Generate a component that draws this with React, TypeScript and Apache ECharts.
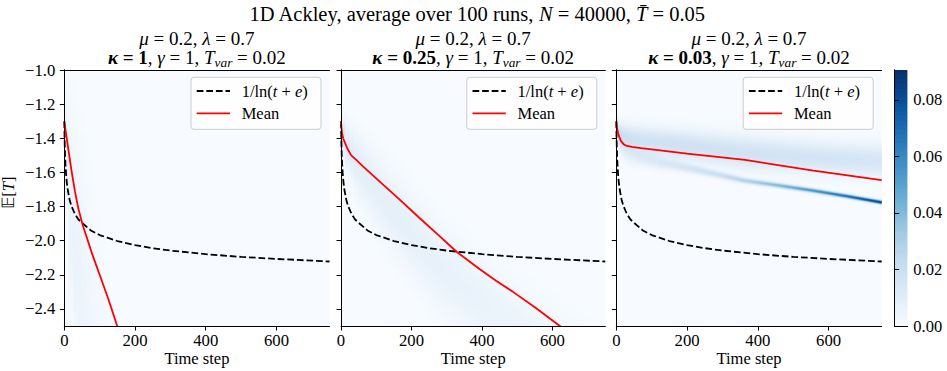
import React, { useEffect, useRef } from 'react';
import * as echarts from 'echarts';

// ---------- data ----------
const timeTicks = [0, 200, 400, 600];
const energyTicks = [-2.4, -2.2, -2.0, -1.8, -1.6, -1.4, -1.2, -1.0];
const colorTicks = [0, 0.02, 0.04, 0.06, 0.08];
const kappaLabels = ['1', '0.25', '0.03'];

// reference curve 1/ln(t+e) (log scale)
const refT = [0, 1, 2, 3, 5, 7, 10, 15, 20, 30, 40, 50, 75, 100, 150, 200, 250, 300, 400, 500, 600, 750];
const refV = [-1.301, -1.419, -1.492, -1.543, -1.611, -1.658, -1.706, -1.76, -1.796, -1.844, -1.876, -1.895, -1.94, -1.967, -2.002, -2.026, -2.044, -2.058, -2.079, -2.095, -2.107, -2.122];

// mean curves
const mean1T = [0, 5, 10, 20, 30, 40, 52, 65, 80, 100, 125, 148, 160];
const mean1V = [-1.3, -1.375, -1.445, -1.585, -1.71, -1.815, -1.908, -1.99, -2.085, -2.2, -2.345, -2.49, -2.56];
const mean2T = [0, 1, 3, 6, 10, 18, 29, 45, 60, 85, 110, 165, 219, 275, 328, 394, 440, 488, 550, 621, 640];
const mean2V = [-1.3, -1.335, -1.37, -1.4, -1.42, -1.46, -1.5, -1.53, -1.56, -1.607, -1.654, -1.757, -1.86, -1.965, -2.065, -2.168, -2.235, -2.3, -2.39, -2.5, -2.53];
const mean3T = [0, 1, 3, 5, 8, 13, 21, 30, 44, 70, 100, 200, 364, 557, 750];
const mean3V = [-1.3, -1.325, -1.35, -1.37, -1.39, -1.415, -1.436, -1.445, -1.451, -1.458, -1.465, -1.49, -1.527, -1.59, -1.645];

// density bands (time knots, centre, spread, peak density)
const p1BandT = [0, 5, 15, 35, 60, 90, 130, 180];
const p1BandC = [-1.3, -1.45, -1.75, -2.1, -2.4, -2.7, -3.0, -3.3];
const p1BandS = [0.04, 0.2, 0.35, 0.45, 0.5, 0.5, 0.5, 0.5];
const p1BandP = [0.01, 0.007, 0.006, 0.0055, 0.0045, 0.003, 0.0015, 0];

const p2BandT = [0, 10, 50, 133, 275, 388, 520, 750];
const p2BandC = [-1.32, -1.42, -1.55, -1.79, -2.14, -2.34, -2.55, -2.9];
const p2BandS = [0.04, 0.08, 0.12, 0.15, 0.16, 0.17, 0.18, 0.2];
const p2BandP = [0.02, 0.011, 0.009, 0.008, 0.007, 0.006, 0.005, 0.004];

const p3UpT = [0, 10, 50, 200, 364, 557, 750];
const p3UpC = [-1.32, -1.38, -1.405, -1.44, -1.48, -1.51, -1.53];
const p3UpS = [0.03, 0.045, 0.055, 0.06, 0.065, 0.065, 0.065];
const p3UpP = [0.03, 0.02, 0.018, 0.018, 0.017, 0.016, 0.015];

const p3LowT = [0, 20, 50, 120, 200, 300, 364, 450, 557, 650, 750];
const p3LowC = [-1.4, -1.47, -1.5, -1.54, -1.57, -1.615, -1.645, -1.67, -1.703, -1.735, -1.772];
const p3LowS = [0.05, 0.04, 0.035, 0.025, 0.018, 0.013, 0.011, 0.0095, 0.0085, 0.008, 0.0075];
const p3LowP = [0, 0.006, 0.008, 0.011, 0.014, 0.02, 0.028, 0.04, 0.056, 0.07, 0.088];

const colorMax = 0.0906;
const bluesPalette = ['#f7fbff', '#deebf7', '#c6dbef', '#9ecae1', '#6baed6', '#4292c6', '#2171b5', '#08519c', '#08306b'];

// ---------- building tables ----------
type Band = { t: number[]; c: number[]; s: number[]; p: number[] };

function lerp(ts: number[], vs: number[], t: number) {
  if (t <= ts[0]) return vs[0];
  for (let k = 1; k < ts.length; k++) {
    if (t <= ts[k]) {
      const f = (t - ts[k - 1]) / (ts[k] - ts[k - 1]);
      return vs[k - 1] + f * (vs[k] - vs[k - 1]);
    }
  }
  return vs[vs.length - 1];
}

function buildCells(bands: Band[], nT: number, nY: number) {
  const cells: number[][] = [];
  const tStep = 750 / nT;
  const yStep = 1.5 / nY;
  for (let a = 0; a < nT; a++) {
    const t0 = a * tStep;
    const tm = t0 + tStep / 2;
    for (let b = 0; b < nY; b++) {
      const y0 = -2.5 + b * yStep;
      const ym = y0 + yStep / 2;
      let v = 0;
      for (const bd of bands) {
        const c = lerp(bd.t, bd.c, tm);
        const s = lerp(bd.t, bd.s, tm);
        const p = lerp(bd.t, bd.p, tm);
        v += p * Math.exp(-0.5 * ((ym - c) / s) ** 2);
      }
      if (v > 0.0006) cells.push([t0, t0 + tStep, y0, y0 + yStep, Math.min(v, colorMax)]);
    }
  }
  return cells;
}

const panelCells = [
  buildCells([{ t: p1BandT, c: p1BandC, s: p1BandS, p: p1BandP }], 60, 150),
  buildCells([{ t: p2BandT, c: p2BandC, s: p2BandS, p: p2BandP }], 60, 150),
  buildCells(
    [
      { t: p3UpT, c: p3UpC, s: p3UpS, p: p3UpP },
      { t: p3LowT, c: p3LowC, s: p3LowS, p: p3LowP },
    ],
    150,
    375
  ),
];

const colorbarCells: number[][] = [];
for (let k = 0; k < 200; k++) {
  const v0 = (colorMax * k) / 200;
  const v1 = (colorMax * (k + 1)) / 200;
  colorbarCells.push([0, 1, v0, v1, (v0 + v1) / 2]);
}

const pairs = (ts: number[], vs: number[]) => ts.map((t, k) => [t, vs[k]]);
const meanSeries = [pairs(mean1T, mean1V), pairs(mean2T, mean2V), pairs(mean3T, mean3V)];
const refSeries = pairs(refT, refV);

// ---------- styling ----------
const FONT = 'Liberation Serif';
const TICK_FS = 16.7;
const grids = [
  { left: 64.3, top: 70, width: 265.2, height: 256 },
  { left: 341, top: 70, width: 264.3, height: 256 },
  { left: 616.3, top: 70, width: 265.4, height: 256 },
  { left: 894.7, top: 70, width: 12.6, height: 256 },
];

const fmtEnergy = (v: number) => (v < 0 ? '\u2212' : '') + Math.abs(v).toFixed(1);

function renderCell(params: any, api: any) {
  const a = api.coord([api.value(0), api.value(3)]);
  const b = api.coord([api.value(1), api.value(2)]);
  const cs = params.coordSys;
  const shape = echarts.graphic.clipRectByRect(
    { x: a[0], y: a[1], width: b[0] - a[0] + 0.7, height: b[1] - a[1] + 0.7 },
    { x: cs.x, y: cs.y, width: cs.width, height: cs.height }
  );
  if (!shape) return null;
  return { type: 'rect', shape, style: { fill: api.visual('color') } };
}

const rich = (size: number) => ({
  i: { fontStyle: 'italic', fontFamily: FONT, fontSize: size, lineHeight: size * 1.2 },
  b: { fontWeight: 'bold', fontFamily: FONT, fontSize: size, lineHeight: size * 1.2 },
  bi: { fontWeight: 'bold', fontStyle: 'italic', fontFamily: FONT, fontSize: size, lineHeight: size * 1.2 },
  r: { fontFamily: FONT, fontSize: size, lineHeight: size * 1.2 },
  sub: { fontStyle: 'italic', fontFamily: FONT, fontSize: size * 0.7, lineHeight: size * 0.7, verticalAlign: 'bottom' },
});

function buildOption() {
  const xAxis: any[] = [];
  const yAxis: any[] = [];
  const series: any[] = [];
  const graphic: any[] = [];
  const frameLine = { show: true, lineStyle: { color: '#000', width: 1 } };

  for (let i = 0; i < 3; i++) {
    xAxis.push({
      type: 'value', gridIndex: i, min: 0, max: 750, position: 'bottom', z: 5,
      axisLine: frameLine,
      axisTick: { show: true, length: 4.5, customValues: timeTicks, lineStyle: { color: '#000' } },
      axisLabel: { customValues: timeTicks, color: '#000', fontFamily: FONT, fontSize: TICK_FS, margin: 6 },
      splitLine: { show: false },
    });
    xAxis.push({
      type: 'value', gridIndex: i, min: 0, max: 750, position: 'top', z: 5,
      axisLine: frameLine, axisTick: { show: false }, axisLabel: { show: false }, splitLine: { show: false },
    });
    yAxis.push({
      type: 'value', gridIndex: i, min: -2.5, max: -1.0, position: 'left', z: 5,
      axisLine: frameLine,
      axisTick: { show: true, length: 4.5, customValues: energyTicks, lineStyle: { color: '#000' } },
      axisLabel: { show: i === 0, customValues: energyTicks, formatter: fmtEnergy, color: '#000', fontFamily: FONT, fontSize: TICK_FS, margin: 9 },
      splitLine: { show: false },
    });
    yAxis.push({
      type: 'value', gridIndex: i, min: -2.5, max: -1.0, position: 'right', z: 5,
      axisLine: frameLine, axisTick: { show: false }, axisLabel: { show: false }, splitLine: { show: false },
    });

    series.push({
      type: 'custom', xAxisIndex: 2 * i, yAxisIndex: 2 * i, renderItem: renderCell,
      encode: { x: [0, 1], y: [2, 3] }, data: panelCells[i], silent: true, z: 1,
      progressive: 0, large: false,
    });
    series.push({
      type: 'line', name: '1/ln(t+e)', xAxisIndex: 2 * i, yAxisIndex: 2 * i, data: refSeries,
      showSymbol: false, smooth: false, clip: true, z: 3,
      lineStyle: { color: '#000', width: 1.8, type: [6.7, 2.9] },
    });
    series.push({
      type: 'line', name: 'Mean', xAxisIndex: 2 * i, yAxisIndex: 2 * i, data: meanSeries[i],
      showSymbol: false, smooth: false, clip: true, z: 4,
      lineStyle: { color: '#ff0000', width: 1.8 },
    });

    const g = grids[i];
    const cx = g.left + g.width / 2;
    graphic.push({
      type: 'text', x: cx, y: 38.5, z: 10,
      style: { text: '{i|\u03bc}{r| = 0.2, }{i|\u03bb}{r| = 0.7}', rich: rich(19), align: 'center', verticalAlign: 'middle', fill: '#000' },
    });
    graphic.push({
      type: 'text', x: cx, y: 57.5, z: 10,
      style: {
        text: `{bi|\u03ba}{b| = ${kappaLabels[i]}}{r|, }{i|\u03b3}{r| = 1, }{i|T}{sub|var}{r| = 0.02}`,
        rich: rich(19), align: 'center', verticalAlign: 'middle', fill: '#000',
      },
    });
    graphic.push({
      type: 'text', x: cx, y: 358.5, z: 10,
      style: { text: 'Time step', fontFamily: FONT, fontSize: 16.5, fontWeight: 'normal', align: 'center', verticalAlign: 'middle', fill: '#000' },
    });

    // legend
    const bx = g.left + g.width - 8.5 - 130;
    const by = 77.3;
    graphic.push({
      type: 'rect', z: 20, shape: { x: bx, y: by, width: 130, height: 52, r: 3 },
      style: { fill: 'rgba(255,255,255,0.8)', stroke: '#cccccc', lineWidth: 1 },
    });
    graphic.push({
      type: 'line', z: 21, shape: { x1: bx + 5.7, y1: by + 13.7, x2: bx + 39, y2: by + 13.7 },
      style: { stroke: '#000', lineWidth: 1.8, lineDash: [6.7, 2.9] },
    });
    graphic.push({
      type: 'line', z: 21, shape: { x1: bx + 5.7, y1: by + 36, x2: bx + 39, y2: by + 36 },
      style: { stroke: '#ff0000', lineWidth: 1.8 },
    });
    graphic.push({
      type: 'text', z: 21, x: bx + 50.7, y: by + 13.7,
      style: { text: '{r|1/ln(}{i|t}{r| + }{i|e}{r|)}', rich: rich(16.5), align: 'left', verticalAlign: 'middle', fill: '#000' },
    });
    graphic.push({
      type: 'text', z: 21, x: bx + 50.7, y: by + 36,
      style: { text: 'Mean', fontFamily: FONT, fontSize: 16.5, align: 'left', verticalAlign: 'middle', fill: '#000' },
    });
  }

  // colorbar axes
  xAxis.push({ type: 'value', gridIndex: 3, min: 0, max: 1, position: 'bottom', z: 5, axisLine: frameLine, axisTick: { show: false }, axisLabel: { show: false }, splitLine: { show: false } });
  xAxis.push({ type: 'value', gridIndex: 3, min: 0, max: 1, position: 'top', z: 5, axisLine: frameLine, axisTick: { show: false }, axisLabel: { show: false }, splitLine: { show: false } });
  yAxis.push({
    type: 'value', gridIndex: 3, min: 0, max: colorMax, position: 'right', z: 5,
    axisLine: frameLine,
    axisTick: { show: true, length: 4.5, customValues: colorTicks, lineStyle: { color: '#000' } },
    axisLabel: { customValues: colorTicks, formatter: (v: number) => v.toFixed(2), color: '#000', fontFamily: FONT, fontSize: 16.5, margin: 6 },
    splitLine: { show: false },
  });
  yAxis.push({ type: 'value', gridIndex: 3, min: 0, max: colorMax, position: 'left', z: 5, axisLine: frameLine, axisTick: { show: false }, axisLabel: { show: false }, splitLine: { show: false } });
  series.push({
    type: 'custom', xAxisIndex: 6, yAxisIndex: 6, renderItem: renderCell,
    encode: { x: [0, 1], y: [2, 3] }, data: colorbarCells, silent: true, z: 1, progressive: 0,
  });

  graphic.push({
    type: 'text', x: 477, y: 14, z: 10,
    style: {
      text: '{r|1D Ackley, average over 100 runs, }{i|N}{r| = 40000, }{i|T\u0304}{r| = 0.05}',
      rich: rich(20.5), align: 'center', verticalAlign: 'middle', fill: '#000',
    },
  });
  graphic.push({
    type: 'text', x: 8.5, y: 192.5, rotation: Math.PI / 2, z: 10,
    style: { text: '{r|\ud835\udd3c[}{i|T}{r|]}', rich: rich(16.7), align: 'center', verticalAlign: 'middle', fill: '#000' },
  });

  return {
    animation: false,
    backgroundColor: '#ffffff',
    grid: grids.map((g) => ({ ...g, show: true, backgroundColor: '#f7fbff', borderWidth: 0 })),
    xAxis,
    yAxis,
    visualMap: {
      type: 'continuous', show: false, min: 0, max: colorMax, dimension: 4,
      seriesIndex: [0, 3, 6, 9], inRange: { color: bluesPalette },
    },
    series,
    graphic,
  };
}

export default function App() {
  const ref = useRef<HTMLDivElement>(null);
  useEffect(() => {
    const chart = echarts.init(ref.current!, null, { renderer: 'svg' });
    chart.setOption(buildOption() as any);
    return () => chart.dispose();
  }, []);
  return <div ref={ref} style={{ position: 'absolute', left: 0, top: 0, width: 947, height: 371 }} />;
}
